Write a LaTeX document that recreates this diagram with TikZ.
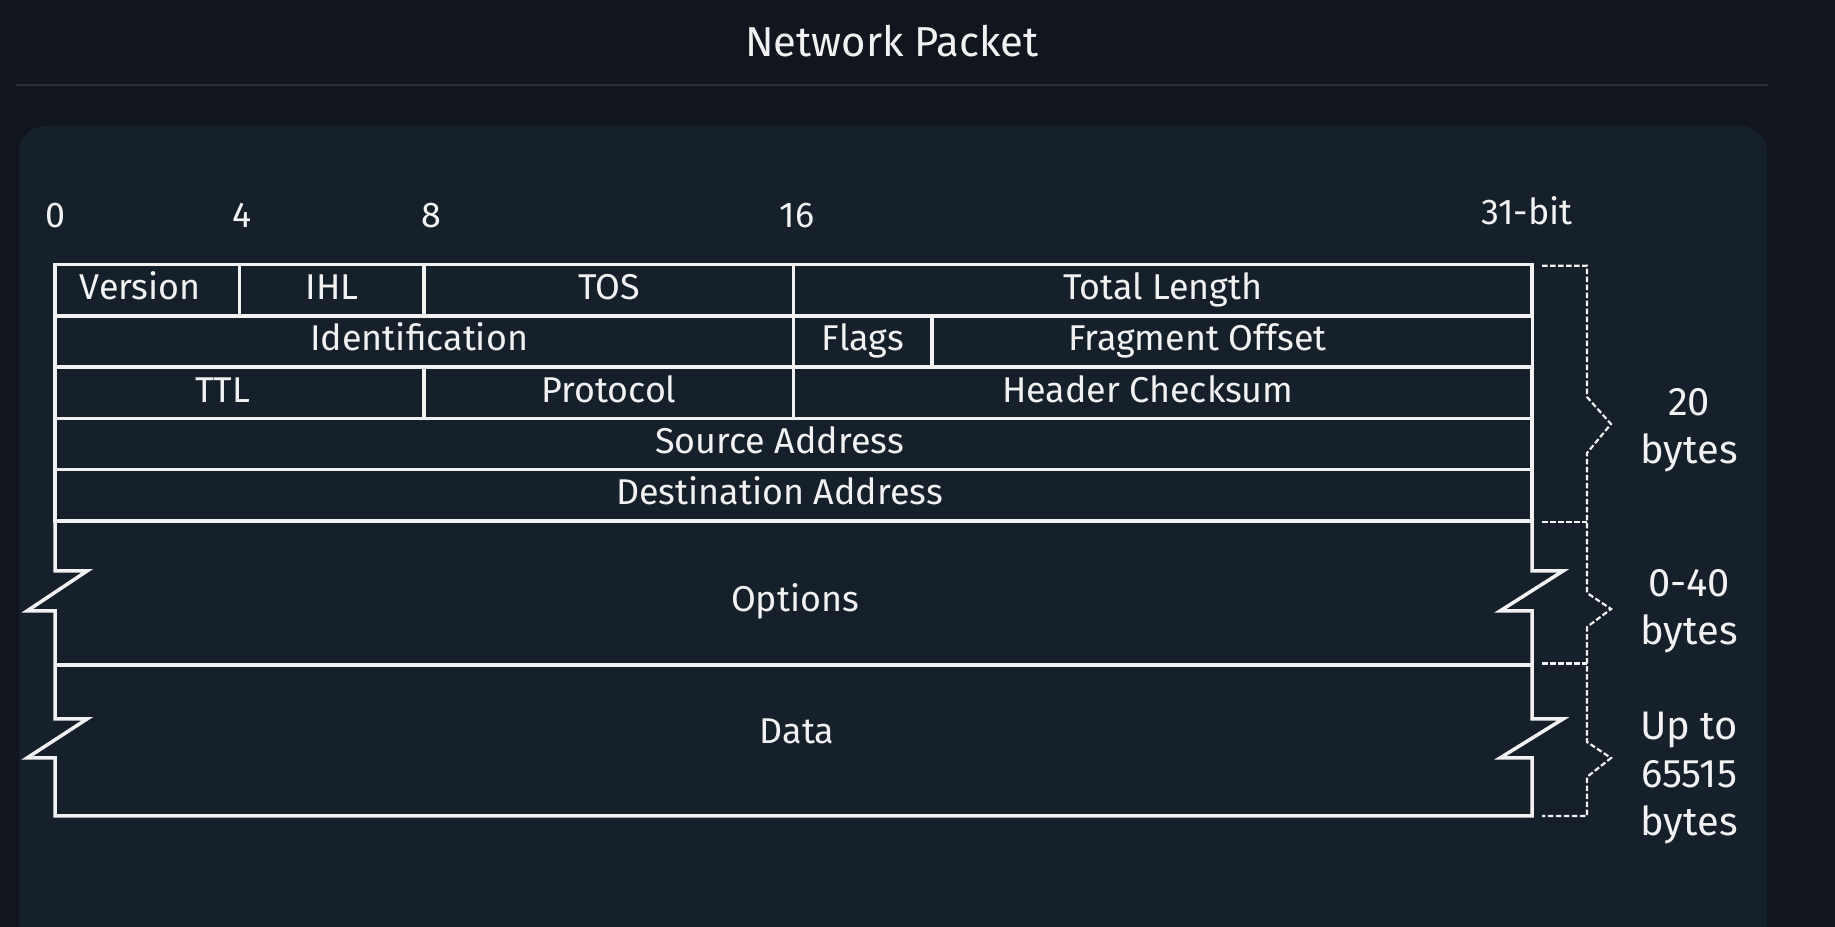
\documentclass[tikz,border=0pt]{standalone}
\usepackage{fontspec}
\setmainfont{Fira Sans}
\definecolor{pagebg}{HTML}{11151E}
\definecolor{panelbg}{HTML}{15202A}
\definecolor{rulegray}{HTML}{2A2F38}
\definecolor{inkwhite}{HTML}{F2F2F2}
\begin{document}
\begin{tikzpicture}[
    field/.style={draw=inkwhite,line width=3.5bp,minimum height=51.3bp,inner sep=0pt,
      text=inkwhite,font=\fontsize{36}{42}\selectfont,text height=27bp,text depth=8bp},
    nudge/.style={execute at end node={\hspace*{#1}}},
    plaintext/.style={text=inkwhite,inner sep=0pt,font=\fontsize{36}{42}\selectfont,
      text height=27bp,text depth=8bp},
    sizetext/.style={text=inkwhite,inner sep=0pt,align=center,font=\fontsize{40}{48}\selectfont},
    sizebrace/.style={draw=inkwhite,line width=2.2bp,dash pattern=on 5.5bp off 2.5bp}
  ]
  \useasboundingbox (0bp,0bp) rectangle (1835bp,927bp);
  \clip (0bp,0bp) rectangle (1835bp,927bp);
  \fill [pagebg] (0bp,0bp) rectangle (1835bp,927bp);
  \fill [panelbg,rounded corners=26bp] (19bp,-40bp) rectangle (1767bp,801bp);
  \draw [rulegray,line width=2.5bp] (16bp,842bp) -- (1768bp,842bp);
  \node (title) at (892bp,886bp) [text=inkwhite,font=\fontsize{42}{48}\selectfont] {Network Packet};
  %% bit positions
  \node (b0) at (56bp,709bp) [plaintext] {0};
  \node (b4) at (242bp,709bp) [plaintext] {4};
  \node (b8) at (431bp,709bp) [plaintext] {8};
  \node (b16) at (797bp,709bp) [plaintext] {16};
  \node (b31) at (1527bp,712bp) [plaintext] {31-bit};
  %% header rows
  \node (version) at (147.3bp,636.85bp) [field,minimum width=184.6bp,nudge=14bp] {Version};
  \node (ihl) at (331.9bp,636.85bp) [field,minimum width=184.6bp] {IHL};
  \node (tos) at (608.9bp,636.85bp) [field,minimum width=369.2bp] {TOS};
  \node (totlen) at (1162.8bp,636.85bp) [field,minimum width=738.5bp] {Total Length};
  \node (ident) at (424.2bp,585.55bp) [field,minimum width=738.5bp,nudge=10bp] {Identification};
  \node (flags) at (862.8bp,585.55bp) [field,minimum width=138.5bp] {Flags};
  \node (fragoff) at (1232.3bp,585.55bp) [field,minimum width=600.0bp,nudge=70bp] {Fragment Offset};
  \node (ttl) at (239.6bp,534.25bp) [field,minimum width=369.2bp,nudge=34bp] {TTL};
  \node (proto) at (608.9bp,534.25bp) [field,minimum width=369.2bp] {Protocol};
  \node (hdrsum) at (1162.8bp,534.25bp) [field,minimum width=738.5bp,nudge=30bp] {Header Checksum};
  \node (srcaddr) at (793.5bp,482.95bp) [field,minimum width=1477bp,nudge=28bp] {Source Address};
  \node (dstaddr) at (793.5bp,431.65bp) [field,minimum width=1477bp,nudge=28bp] {Destination Address};
  %% options and data, broken edges
  \draw [inkwhite,line width=3.5bp] (55bp,406bp) -- (55bp,356bp) -- (87bp,356bp) -- (27bp,316bp) -- (55bp,316bp)
    -- (55bp,208bp) -- (87bp,208bp) -- (27bp,169bp) -- (55bp,169bp) -- (55bp,111bp)
    -- (1532bp,111bp) -- (1532bp,169bp) -- (1500bp,169bp) -- (1563bp,208bp) -- (1532bp,208bp)
    -- (1532bp,316bp) -- (1500bp,316bp) -- (1563bp,356bp) -- (1532bp,356bp) -- (1532bp,406bp);
  \draw [inkwhite,line width=3.5bp] (55bp,262bp) -- (1532bp,262bp);
  \node (options) at (795bp,325bp) [plaintext] {Options};
  \node (data) at (797bp,192.5bp) [plaintext] {Data};
  %% sizes
  \draw [sizebrace] (1542bp,661.3bp) -- (1587bp,661.3bp) -- (1587bp,530bp) -- (1611bp,503bp) -- (1587bp,474bp)
    -- (1587bp,334bp) -- (1611bp,318bp) -- (1587bp,300bp)
    -- (1587bp,185bp) -- (1611bp,169bp) -- (1587bp,150bp) -- (1587bp,111bp) -- (1542bp,111bp);
  \draw [sizebrace] (1542bp,405.3bp) -- (1587bp,405.3bp);
  \draw [sizebrace] (1542bp,263.5bp) -- (1587bp,263.5bp);
  \node (hdrsize) at (1689bp,497bp) [sizetext] {20\\bytes};
  \node (optsize) at (1689bp,316bp) [sizetext] {0-40\\bytes};
  \node (datasize) at (1689bp,149bp) [sizetext] {Up to\\65515\\bytes};
\end{tikzpicture}
\end{document}
